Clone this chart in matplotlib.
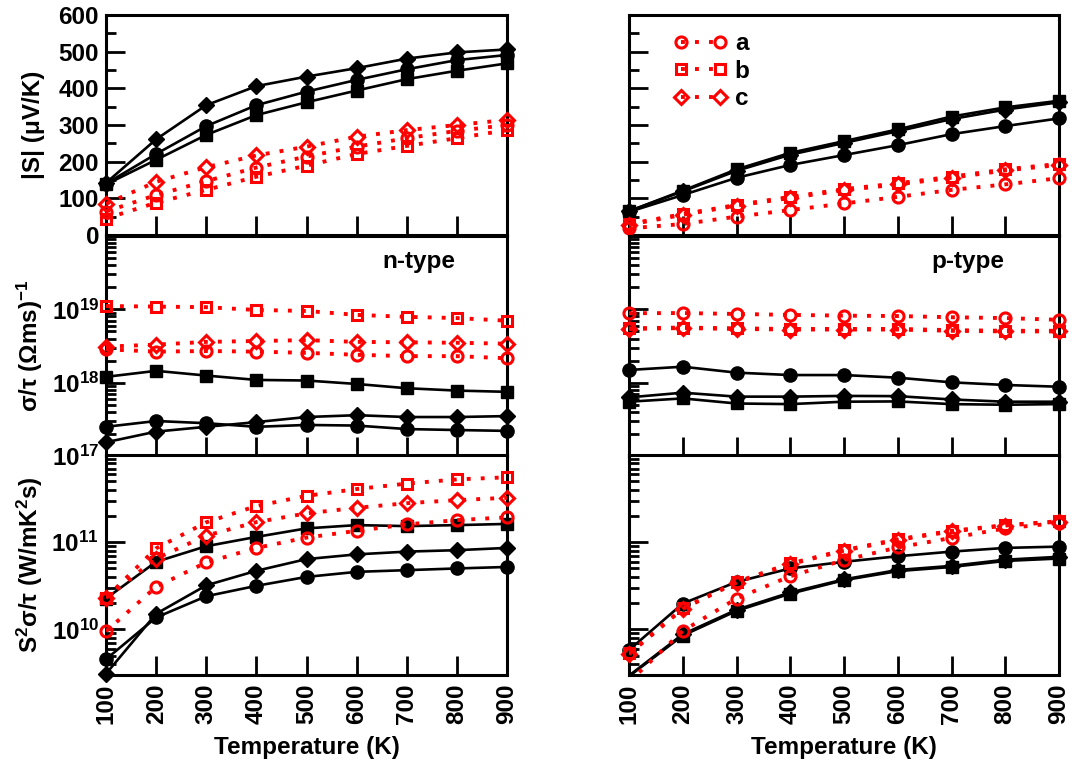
import numpy as np
import matplotlib
matplotlib.use("Agg")
import matplotlib.pyplot as plt
from matplotlib.ticker import (FixedLocator, LogLocator, FuncFormatter,
                               MultipleLocator, NullFormatter)
from matplotlib.lines import Line2D

plt.rcParams['font.family'] = ['Liberation Sans', 'DejaVu Sans']
plt.rcParams['font.weight'] = 'bold'
plt.rcParams['mathtext.fontset'] = 'custom'
plt.rcParams['mathtext.rm'] = 'Liberation Sans:bold'
plt.rcParams['mathtext.bf'] = 'Liberation Sans:bold'
plt.rcParams['mathtext.it'] = 'Liberation Sans:bold:italic'

# ---------------- data ----------------
temperature = [100, 200, 300, 400, 500, 600, 700, 800, 900]
series_labels = ['a', 'b', 'c']

# Seebeck |S| (uV/K)
seebeck_n_red = {'a': [64, 109, 147, 184, 214, 241, 264, 284, 300],
                 'b': [45, 88, 123, 159, 189, 221, 243, 264, 286],
                 'c': [85, 145, 185, 217, 241, 268, 286, 300, 314]}
seebeck_n_black = {'a': [140, 221, 297, 354, 391, 423, 452, 477, 491],
                   'b': [138, 205, 273, 327, 362, 394, 425, 448, 468],
                   'c': [142, 261, 354, 406, 432, 455, 481, 498, 506]}
seebeck_p_red = {'a': [18, 30, 50, 68, 86, 104, 123, 138, 155],
                 'b': [30, 57, 82, 104, 125, 141, 159, 179, 194],
                 'c': [28, 55, 80, 101, 122, 138, 156, 176, 191]}
seebeck_p_black = {'a': [63, 109, 156, 191, 218, 245, 275, 297, 318],
                   'b': [65, 121, 179, 224, 256, 288, 323, 348, 366],
                   'c': [65, 119, 175, 219, 251, 283, 316, 342, 362]}

# sigma/tau ((Ohm m s)^-1)
sigma_n_red = {'a': [2.85e18, 2.65e18, 2.7e18, 2.65e18, 2.55e18, 2.4e18, 2.3e18, 2.3e18, 2.15e18],
               'b': [1.11e19, 1.09e19, 1.07e19, 9.8e18, 9.5e18, 8.4e18, 7.9e18, 7.6e18, 7.0e18],
               'c': [3.1e18, 3.3e18, 3.6e18, 3.7e18, 3.8e18, 3.6e18, 3.55e18, 3.5e18, 3.4e18]}
sigma_n_black = {'a': [2.5e17, 3.0e17, 2.8e17, 2.5e17, 2.65e17, 2.6e17, 2.33e17, 2.26e17, 2.2e17],
                 'b': [1.2e18, 1.45e18, 1.25e18, 1.09e18, 1.07e18, 9.6e17, 8.4e17, 7.8e17, 7.5e17],
                 'c': [1.54e17, 2.15e17, 2.5e17, 2.9e17, 3.4e17, 3.6e17, 3.4e17, 3.4e17, 3.5e17]}
sigma_p_red = {'a': [8.85e18, 8.9e18, 8.65e18, 8.4e18, 8.2e18, 8.1e18, 7.8e18, 7.6e18, 7.2e18],
               'b': [5.5e18, 5.65e18, 5.5e18, 5.4e18, 5.4e18, 5.4e18, 5.2e18, 5.1e18, 5.1e18],
               'c': [5.4e18, 5.55e18, 5.4e18, 5.3e18, 5.3e18, 5.3e18, 5.1e18, 5.0e18, 5.0e18]}
sigma_p_black = {'a': [1.49e18, 1.65e18, 1.37e18, 1.27e18, 1.27e18, 1.17e18, 1.01e18, 9.3e17, 8.8e17],
                 'b': [5.5e17, 6.1e17, 5.2e17, 5.1e17, 5.5e17, 5.55e17, 5.1e17, 5.0e17, 5.1e17],
                 'c': [6.3e17, 7.3e17, 6.45e17, 6.45e17, 6.6e17, 6.55e17, 5.9e17, 5.5e17, 5.5e17]}

# Power factor S^2 sigma/tau (W/mK^2 s)
pf_n_red = {'a': [9.5e9, 3.08e10, 5.86e10, 8.6e10, 1.13e11, 1.35e11, 1.6e11, 1.79e11, 1.93e11],
            'b': [2.3e10, 8.5e10, 1.69e11, 2.6e11, 3.4e11, 4.07e11, 4.7e11, 5.25e11, 5.55e11],
            'c': [2.3e10, 6.5e10, 1.19e11, 1.7e11, 2.14e11, 2.48e11, 2.8e11, 3.04e11, 3.23e11]}
pf_n_black = {'a': [4.55e9, 1.37e10, 2.4e10, 3.16e10, 4.0e10, 4.57e10, 4.78e10, 5.0e10, 5.2e10],
              'b': [2.26e10, 5.96e10, 9.0e10, 1.15e11, 1.44e11, 1.57e11, 1.53e11, 1.57e11, 1.62e11],
              'c': [3.1e9, 1.51e10, 3.2e10, 4.7e10, 6.4e10, 7.25e10, 7.8e10, 8.1e10, 8.6e10]}
pf_p_red = {'a': [2.5e9, 9.6e9, 2.26e10, 4.07e10, 6.24e10, 8.7e10, 1.12e11, 1.44e11, 1.67e11],
            'b': [5.3e9, 1.74e10, 3.5e10, 5.7e10, 8.1e10, 1.08e11, 1.35e11, 1.57e11, 1.74e11],
            'c': [5.2e9, 1.72e10, 3.45e10, 5.6e10, 8.0e10, 1.06e11, 1.33e11, 1.55e11, 1.72e11]}
pf_p_black = {'a': [5.8e9, 1.98e10, 3.5e10, 5.0e10, 5.96e10, 6.9e10, 7.8e10, 8.6e10, 8.9e10],
              'b': [2.9e9, 8.5e9, 1.63e10, 2.57e10, 3.67e10, 4.66e10, 5.2e10, 6.1e10, 6.5e10],
              'c': [2.95e9, 8.8e9, 1.68e10, 2.65e10, 3.75e10, 4.8e10, 5.35e10, 6.3e10, 6.8e10]}

# ---------------- styles ----------------
markers = {'a': 'o', 'b': 's', 'c': 'D'}
msize_black = {'a': 9.5, 'b': 8.5, 'c': 8.0}
msize_red = {'a': 8.0, 'b': 7.5, 'c': 7.0}
RED = '#ff0000'
FS = 17.5
DOT = (0, (1, 2.6))

T = np.array(temperature, dtype=float)


def draw_group(ax, data, red, ylim):
    lo, hi = ylim
    for key in series_labels:
        y = np.asarray(data[key], dtype=float)
        inside = (y >= lo) & (y <= hi)
        if red:
            ax.plot(T, y, color=RED, lw=2.8, linestyle=DOT,
                    dash_capstyle='butt', zorder=3)
            ax.plot(T[inside], y[inside], ls='none', marker=markers[key],
                    ms=msize_red[key], mfc='none', mec=RED, mew=2.2,
                    clip_on=False, zorder=4)
        else:
            ax.plot(T, y, color='black', lw=1.9, zorder=2)
            ax.plot(T[inside], y[inside], ls='none', marker=markers[key],
                    ms=msize_black[key], mfc='black', mec='black',
                    clip_on=False, zorder=2.5)


fig = plt.figure(figsize=(10.78, 7.69), dpi=100)
W, H = 1078.0, 769.0
col_x = [(106 / W, 401 / W), (629 / W, 430 / W)]
row_y = [(H - 235) / H, (H - 456) / H, (H - 675) / H]
h = 220 / H

axes = [[None, None] for _ in range(3)]
for r in range(3):
    for c in range(2):
        axes[r][c] = fig.add_axes([col_x[c][0], row_y[r], col_x[c][1], h])

panels = [
    [(seebeck_n_red, seebeck_n_black), (seebeck_p_red, seebeck_p_black)],
    [(sigma_n_red, sigma_n_black), (sigma_p_red, sigma_p_black)],
    [(pf_n_red, pf_n_black), (pf_p_red, pf_p_black)],
]
ylims = [(0, 600), (1e17, 1e20), (3e9, 1e12)]
labelled_exp = [None, [17, 18, 19], [10, 11]]


def log_fmt(allowed):
    def f(v, pos):
        e = int(round(np.log10(v)))
        if e in allowed:
            return r'$\mathbf{10^{%d}}$' % e
        return ''
    return f


for r in range(3):
    for c in range(2):
        ax = axes[r][c]
        red, black = panels[r][c]
        if r > 0:
            ax.set_yscale('log')
        draw_group(ax, black, False, ylims[r])
        draw_group(ax, red, True, ylims[r])
        ax.set_xlim(100, 900)
        ax.set_ylim(*ylims[r])
        ax.xaxis.set_major_locator(FixedLocator(temperature))
        if r == 0:
            ax.yaxis.set_major_locator(MultipleLocator(100))
            ax.yaxis.set_minor_locator(MultipleLocator(50))
        else:
            ax.yaxis.set_major_locator(LogLocator(base=10, numticks=20))
            ax.yaxis.set_minor_locator(LogLocator(base=10, subs=np.arange(2, 10), numticks=50))
            ax.yaxis.set_minor_formatter(NullFormatter())
            ax.yaxis.set_major_formatter(FuncFormatter(log_fmt(labelled_exp[r])))
        for sp in ax.spines.values():
            sp.set_linewidth(2.2)
        ax.tick_params(which='both', direction='in', top=False, right=False,
                       width=2.0, labelsize=FS, pad=5)
        ax.tick_params(which='major', length=13.5)
        ax.tick_params(which='minor', length=7)
        if r < 2:
            ax.tick_params(axis='x', labelbottom=False)
        else:
            ax.tick_params(axis='x', labelrotation=90, pad=6)
            ax.set_xlabel('Temperature (K)', fontsize=FS, fontweight='bold', labelpad=9)
        if c == 1:
            ax.tick_params(axis='y', labelleft=False)

ylabels = ['|S| (μV/K)',
           r'σ/τ (Ωms)$^{\mathbf{-1}}$',
           r'S$^{\mathbf{2}}$σ/τ (W/mK$^{\mathbf{2}}$s)']
for r in range(3):
    axes[r][0].set_ylabel(ylabels[r], fontsize=FS, fontweight='bold')
    axes[r][0].yaxis.set_label_coords(-0.152, 0.5)

axes[1][0].text(0.78, 0.885, 'n-type', transform=axes[1][0].transAxes,
                ha='center', va='center', fontsize=FS, fontweight='bold')
axes[1][1].text(0.788, 0.885, 'p-type', transform=axes[1][1].transAxes,
                ha='center', va='center', fontsize=FS, fontweight='bold')

handles = [Line2D([], [], color=RED, lw=2.8, linestyle=DOT,
                  marker=markers[k], ms=msize_red[k], mfc='none', mec=RED, mew=2.2)
           for k in series_labels]
axes[0][1].legend(handles, series_labels, loc='upper left',
                  bbox_to_anchor=(0.1047, 0.921), borderaxespad=0, borderpad=0,
                  frameon=False, numpoints=2, handlelength=2.2, handletextpad=0.3,
                  labelspacing=0.18, prop={'weight': 'bold', 'size': FS})

fig.savefig('out.png', dpi=100)
